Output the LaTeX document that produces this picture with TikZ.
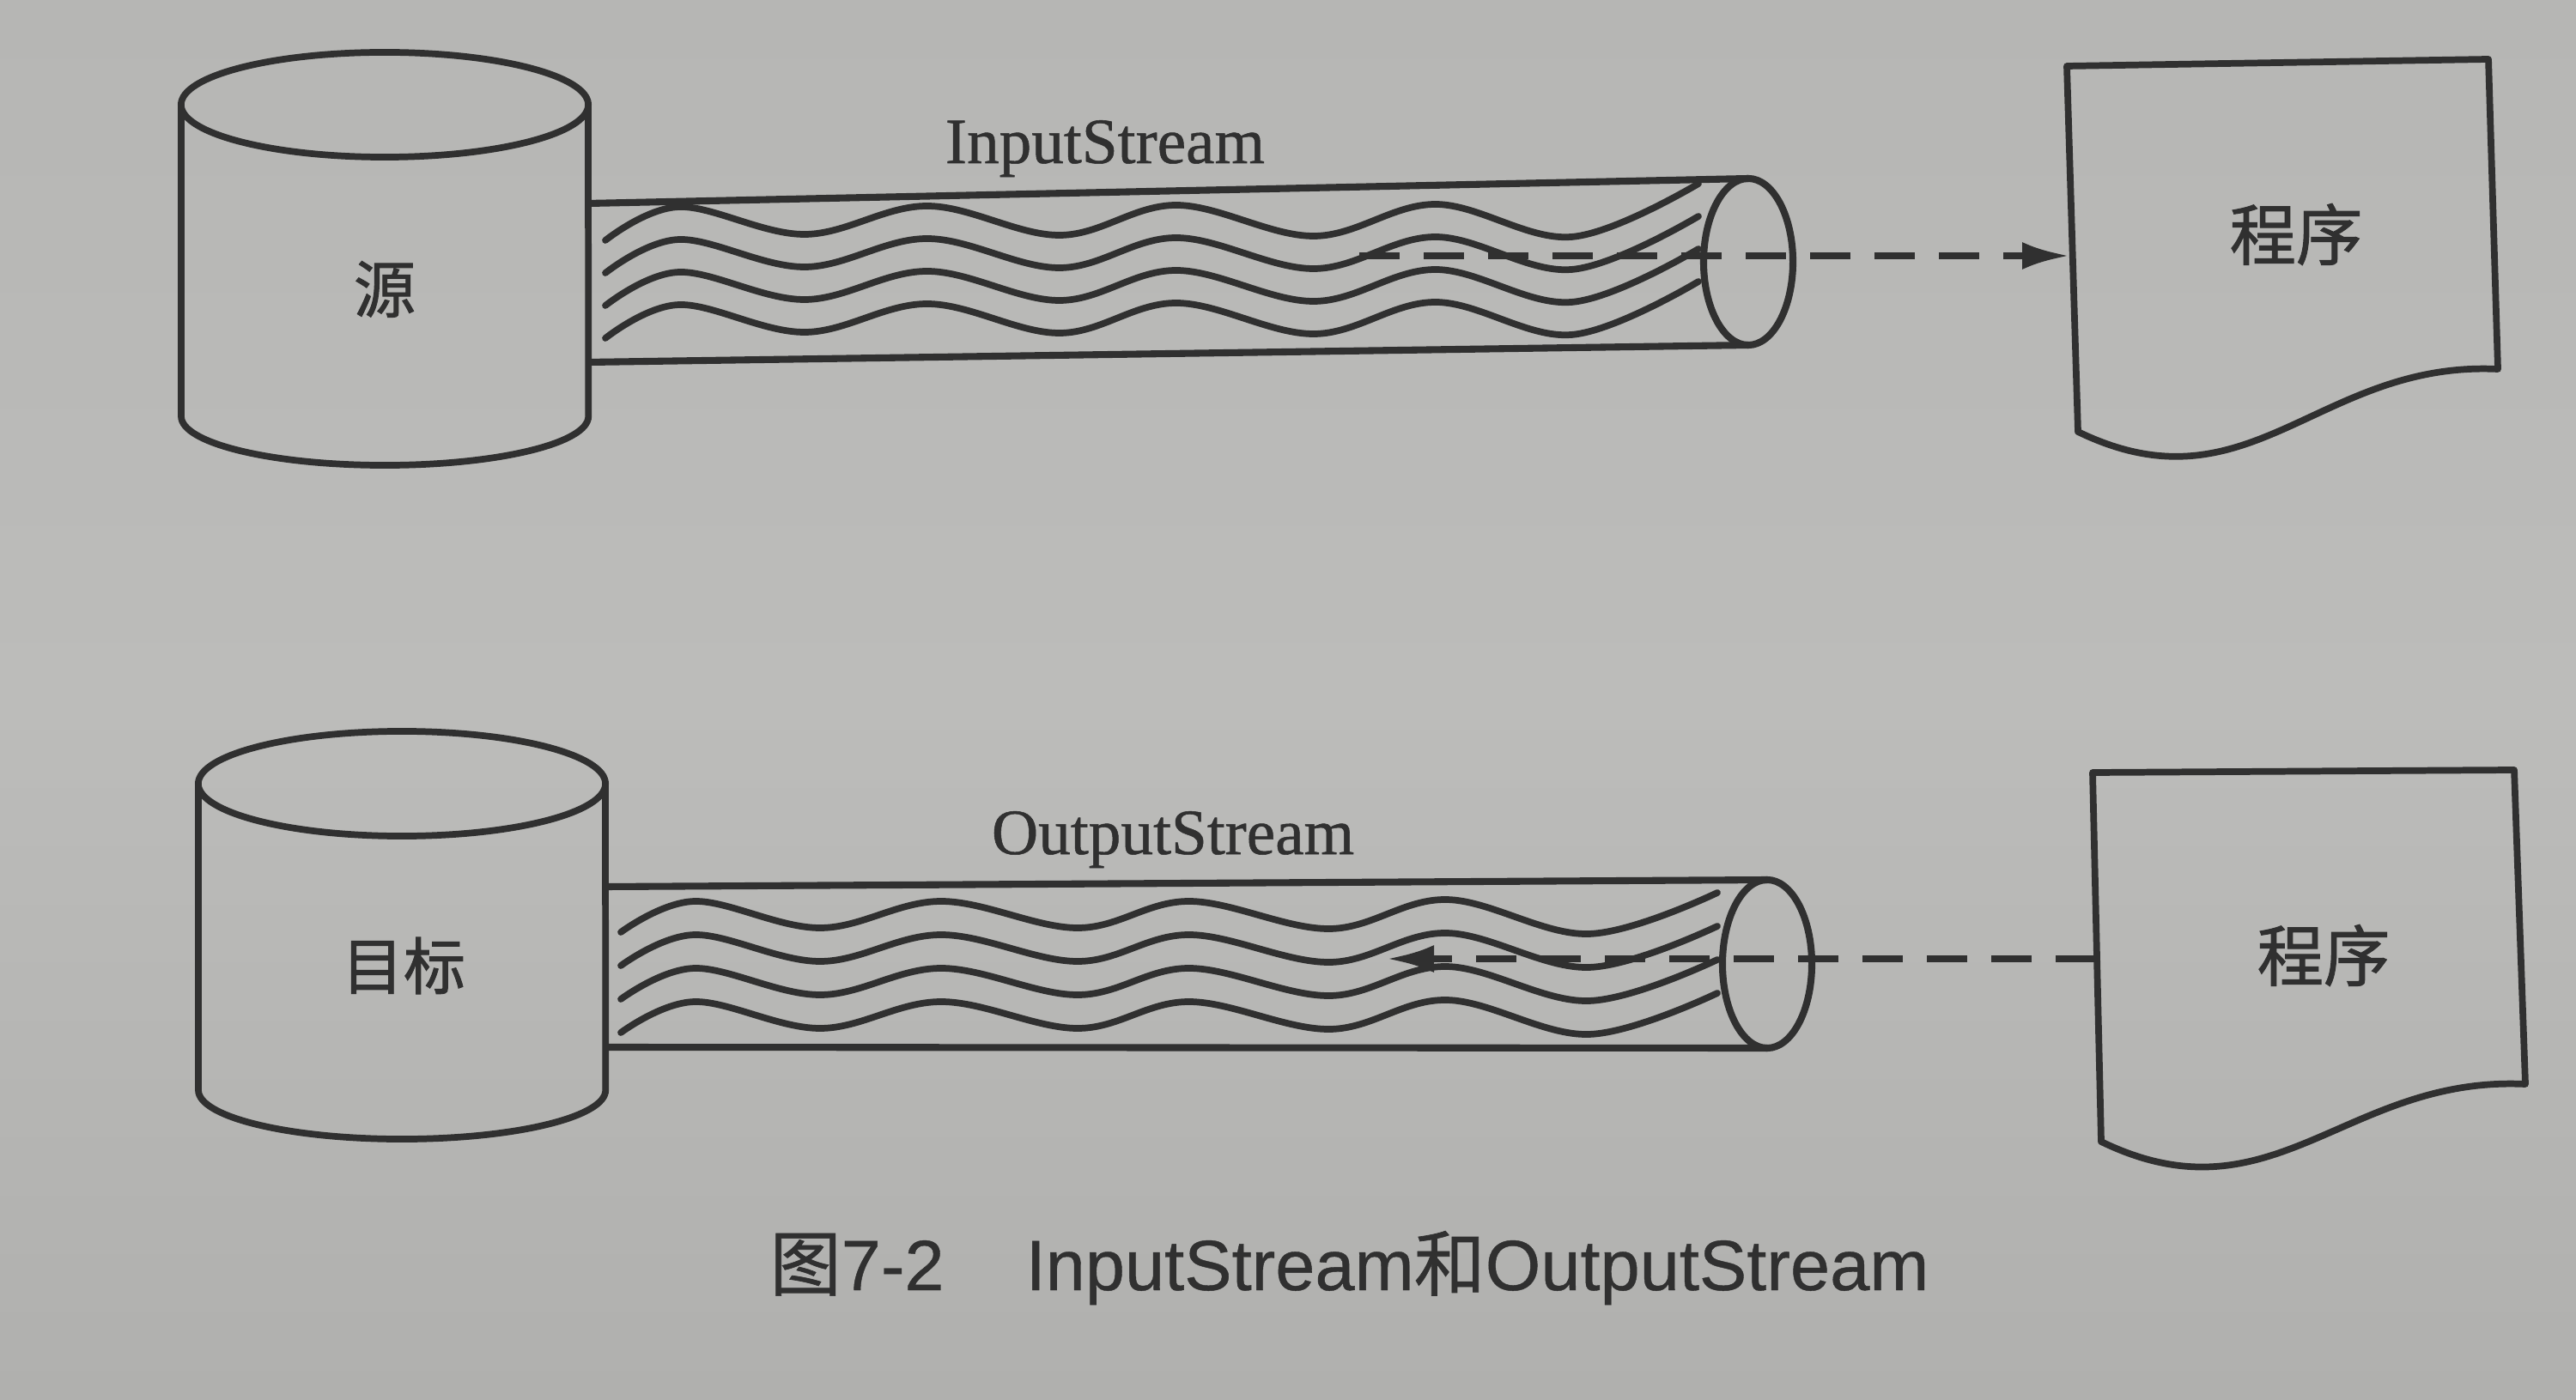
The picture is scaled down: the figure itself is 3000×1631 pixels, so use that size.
\documentclass[tikz,border=0pt]{standalone}
\usepackage{fontspec}
\setmainfont{Liberation Serif}
\newfontfamily\heavyserif{Liberation Serif}[FakeBold=0.7]
\newfontfamily\cjkfont{Noto Sans CJK SC}[FakeBold=1.3]
\newfontfamily\capcjk{Noto Sans CJK SC}[FakeBold=0.8]
\newfontfamily\capfont{Liberation Sans}[FakeBold=0.5]
\usetikzlibrary{arrows.meta}
\definecolor{pagebg}{RGB}{188,188,186}
\definecolor{pagetop}{RGB}{182,182,180}
\definecolor{pagebot}{RGB}{176,176,174}
\definecolor{ink}{RGB}{48,48,48}
\begin{document}
\begin{tikzpicture}[x=0.01cm,y=-0.01cm,
  cyl/.style={draw=ink,line width=2.2pt},
  tube/.style={draw=ink,line width=2.3pt},
  wave/.style={draw=ink,line width=2.2pt,line cap=round},
  flow/.style={draw=ink,line width=2.2pt,dash pattern=on 0.47cm off 0.28cm,-{Latex[length=0.55cm,width=0.32cm]}},
  cjklabel/.style={font=\cjkfont\fontsize{20.5pt}{24pt}\selectfont,inner sep=0pt,text=ink},
  proglabel/.style={font=\cjkfont\fontsize{22pt}{26pt}\selectfont,inner sep=0pt,text=ink},
  streamlabel/.style={font=\heavyserif\fontsize{21.4pt}{25pt}\selectfont,inner sep=0pt,anchor=base,text=ink},
  doc/.style={draw=ink,line width=2.2pt,line join=round}
]
\shade[top color=pagetop,bottom color=pagebot,middle color=pagebg] (0,0) rectangle (3000,1631);
\useasboundingbox (0,0) rectangle (3000,1631);

% ---------- top: source cylinder ----------
\draw[cyl] (448,122) ellipse [x radius=2.37cm, y radius=0.61cm];
\draw[cyl] (211,122) -- (211,485) arc[start angle=180, end angle=360, x radius=2.37cm, y radius=0.57cm] -- (685,122);
\node[cjklabel] (src) at (448,337) {源};

% top pipe
\draw[tube] (685,237) -- (2036,208);
\draw[tube] (685,422) -- (2036,402);
\foreach \k in {0,...,3}{
  \pgfmathsetmacro{\wc}{257+38*\k}
  \draw[wave] plot[smooth,tension=0.6] coordinates {(705,\wc+23) (791,\wc-16) (937,\wc+16) (1080,\wc-17) (1234,\wc+17) (1370,\wc-18) (1530,\wc+18) (1672,\wc-19) (1830,\wc+19) (1978,\wc-43)};
}
\draw[tube] (2036,305) ellipse [x radius=0.52cm, y radius=0.97cm];
\node[streamlabel] (inlabel) at (1287,190) {InputStream};

% top program
\draw[doc] (2407,77) -- (2898,69) -- (2909,430) .. controls (2700,420) and (2620,600) .. (2420,503) -- cycle;
\node[proglabel] (prog1) at (2674,273) {程序};
\coordinate (instart) at (1583,298);
\coordinate (prog1in) at (2410,298);
\draw[flow] (instart) -- (prog1in);

% ---------- bottom: target cylinder ----------
\draw[cyl] (468,913) ellipse [x radius=2.37cm, y radius=0.61cm];
\draw[cyl] (231,913) -- (231,1270) arc[start angle=180, end angle=360, x radius=2.37cm, y radius=0.57cm] -- (705,913);
\node[cjklabel] (dst) at (470,1125) {目标};

% bottom pipe
\draw[tube] (705,1033) -- (2058,1025);
\draw[tube] (705,1220) -- (2058,1221);
\foreach \k in {0,...,3}{
  \pgfmathsetmacro{\wc}{1066+39*\k}
  \draw[wave] plot[smooth,tension=0.6] coordinates {(723,\wc+20) (809,\wc-16) (955,\wc+15) (1096,\wc-16) (1255,\wc+15) (1385,\wc-16) (1548,\wc+16) (1685,\wc-18) (1850,\wc+22) (2000,\wc-26)};
}
\draw[tube] (2058,1123) ellipse [x radius=0.52cm, y radius=0.98cm];
\node[streamlabel] (outlabel) at (1366,995) {OutputStream};

% bottom program
\draw[doc] (2437,900) -- (2928,897) -- (2941,1263) .. controls (2732,1253) and (2647,1427) .. (2447,1330) -- cycle;
\node[proglabel] (prog2) at (2706,1113) {程序};
\coordinate (prog2out) at (2441,1117);
\coordinate (outend) at (1615,1117);
\draw[flow] (prog2out) -- (outend);

% caption
\node[anchor=base west,inner sep=0pt,text=ink,font=\capfont\fontsize{23.6pt}{28pt}\selectfont] (caption) at (896,1503)
  {{\capcjk 图}7-2\hspace{0.95cm}InputStream{\capcjk 和}OutputStream};
\end{tikzpicture}
\end{document}
